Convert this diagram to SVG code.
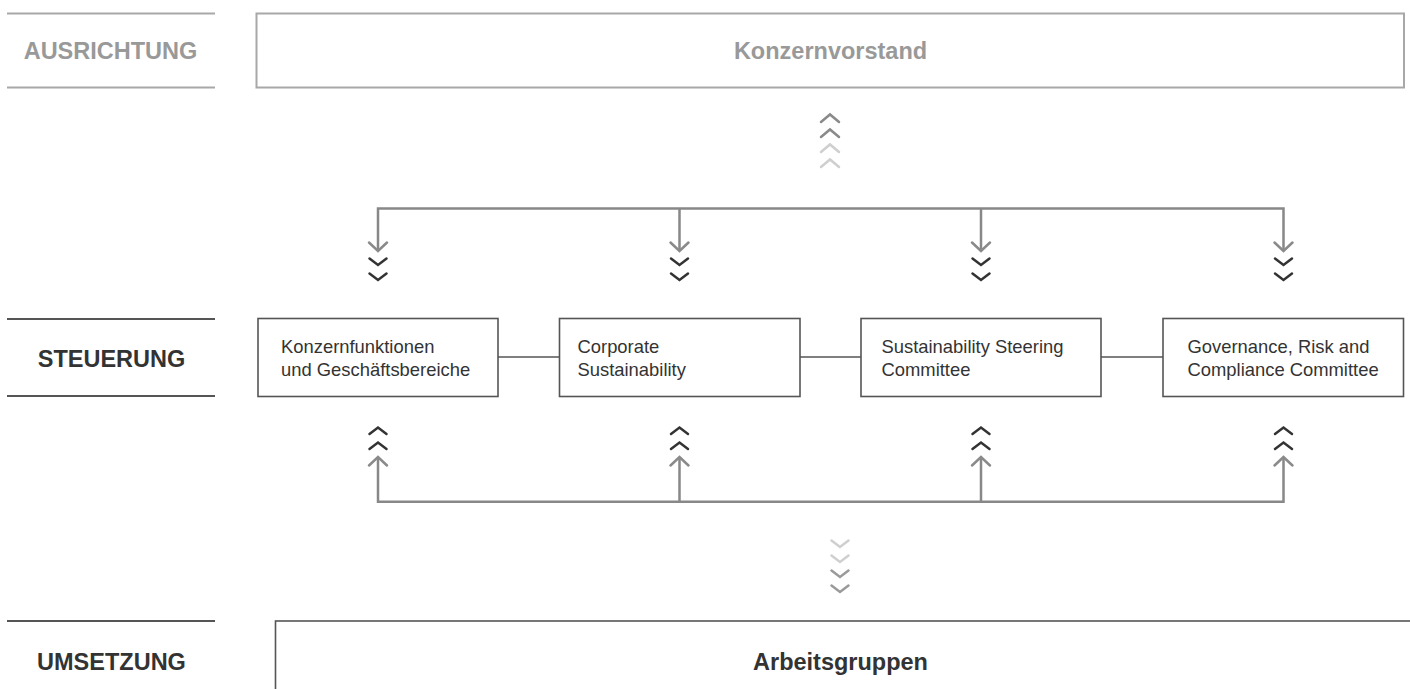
<svg xmlns="http://www.w3.org/2000/svg" width="1410" height="689" viewBox="0 0 1410 689">
<style>
.lbl{font-family:"Liberation Sans",Arial,sans-serif;font-weight:bold;font-size:23.5px;text-anchor:middle}
.lblg{fill:#999}
.lbld{fill:#333}
.bt{font-family:"Liberation Sans",Arial,sans-serif;font-size:18.4px;fill:#333}
.box{fill:#fff;stroke:#555;stroke-width:1.6}
.rule{stroke:#555;stroke-width:1.8}
.ruleg{stroke:#a8a8a8;stroke-width:2}
.con{fill:none;stroke:#888;stroke-width:2.5}
.chev{fill:none;stroke-width:2.5;stroke-linecap:round;stroke-linejoin:miter}
.dk{stroke:#333}
.md{stroke:#8a8a8a}
.lt{stroke:#cfcfcf}
.md2{stroke:#9a9a9a}
.link{stroke:#555;stroke-width:1.6}
</style>
<defs>
<path id="dn" d="M-8.5,-3.5 L0,3 L8.5,-3.5"/>
<path id="up" d="M-8.5,3.5 L0,-3 L8.5,3.5"/>
<path id="dnA" d="M-9,-8.5 L0,0 L9,-8.5"/>
<path id="upA" d="M-9,8.5 L0,0 L9,8.5"/>
</defs>
<rect width="1410" height="689" fill="#fff"/>

<g id="label-ausrichtung">
<line class="ruleg" x1="7" y1="13.5" x2="215" y2="13.5"/>
<line class="ruleg" x1="7" y1="87.5" x2="215" y2="87.5"/>
<text class="lbl lblg" x="110.5" y="59">AUSRICHTUNG</text>
</g>
<g id="label-steuerung">
<line class="rule" x1="7" y1="319" x2="215" y2="319"/>
<line class="rule" x1="7" y1="396" x2="215" y2="396"/>
<text class="lbl lbld" x="111.5" y="366.5">STEUERUNG</text>
</g>
<g id="label-umsetzung">
<line class="rule" x1="7" y1="621" x2="215" y2="621"/>
<text class="lbl lbld" x="111.5" y="669.5">UMSETZUNG</text>
</g>

<g id="node-konzernvorstand">
<rect x="256.5" y="13.5" width="1147.5" height="74" fill="#fff" stroke="#a8a8a8" stroke-width="2"/>
<text class="lbl lblg" x="830.5" y="59" font-size="23">Konzernvorstand</text>
</g>

<g id="connectors">
<line class="link" x1="498" y1="357" x2="559.5" y2="357"/>
<line class="link" x1="800" y1="357" x2="861" y2="357"/>
<line class="link" x1="1101" y1="357" x2="1163" y2="357"/>
<path class="con" d="M378,251 V208.5 H1283.5 V251 M679.5,208.5 V251 M981,208.5 V251"/>
<path class="con" d="M378,457 V501.7 H1283.5 V457 M679.5,501.7 V457 M981,501.7 V457"/>
<g class="chev md">
<use href="#dnA" x="378" y="251"/><use href="#dnA" x="679.5" y="251"/><use href="#dnA" x="981" y="251"/><use href="#dnA" x="1283.5" y="251"/>
<use href="#upA" x="378" y="457"/><use href="#upA" x="679.5" y="457"/><use href="#upA" x="981" y="457"/><use href="#upA" x="1283.5" y="457"/>
</g>
<g class="chev dk">
<use href="#dn" x="378" y="262"/><use href="#dn" x="378" y="277"/>
<use href="#dn" x="679.5" y="262"/><use href="#dn" x="679.5" y="277"/>
<use href="#dn" x="981" y="262"/><use href="#dn" x="981" y="277"/>
<use href="#dn" x="1283.5" y="262"/><use href="#dn" x="1283.5" y="277"/>
<use href="#up" x="378" y="430.5"/><use href="#up" x="378" y="445.5"/>
<use href="#up" x="679.5" y="430.5"/><use href="#up" x="679.5" y="445.5"/>
<use href="#up" x="981" y="430.5"/><use href="#up" x="981" y="445.5"/>
<use href="#up" x="1283.5" y="430.5"/><use href="#up" x="1283.5" y="445.5"/>
</g>
<g class="chev">
<path class="md" d="M821,122 L830,114.5 L839,122 M821,137 L830,129.5 L839,137"/>
<path class="lt" d="M821,152 L830,144.5 L839,152 M821,167 L830,159.5 L839,167"/>
<path class="lt" d="M831.5,540.5 L840,547 L848.5,540.5 M831.5,555.5 L840,562 L848.5,555.5"/>
<path class="md2" d="M831.5,570.5 L840,577 L848.5,570.5 M831.5,585.5 L840,592 L848.5,585.5"/>
</g>
</g>

<g id="node-konzernfunktionen">
<rect class="box" x="258" y="318.5" width="240" height="78"/>
<text class="bt" x="281" y="352.5">Konzernfunktionen</text>
<text class="bt" x="281" y="375.5">und Geschäftsbereiche</text>
</g>
<g id="node-corporate-sustainability">
<rect class="box" x="559.5" y="318.5" width="240.5" height="78"/>
<text class="bt" x="577.5" y="352.5">Corporate</text>
<text class="bt" x="577.5" y="375.5">Sustainability</text>
</g>
<g id="node-sustainability-steering">
<rect class="box" x="861" y="318.5" width="240" height="78"/>
<text class="bt" x="881.5" y="352.5">Sustainability Steering</text>
<text class="bt" x="881.5" y="375.5">Committee</text>
</g>
<g id="node-grc-committee">
<rect class="box" x="1163" y="318.5" width="240.5" height="78"/>
<text class="bt" x="1187.5" y="352.5">Governance, Risk and</text>
<text class="bt" x="1187.5" y="375.5">Compliance Committee</text>
</g>

<g id="node-arbeitsgruppen">
<rect class="box" x="275.5" y="621" width="1200" height="120"/>
<text class="lbl lbld" x="840.5" y="669.5">Arbeitsgruppen</text>
</g>
</svg>
